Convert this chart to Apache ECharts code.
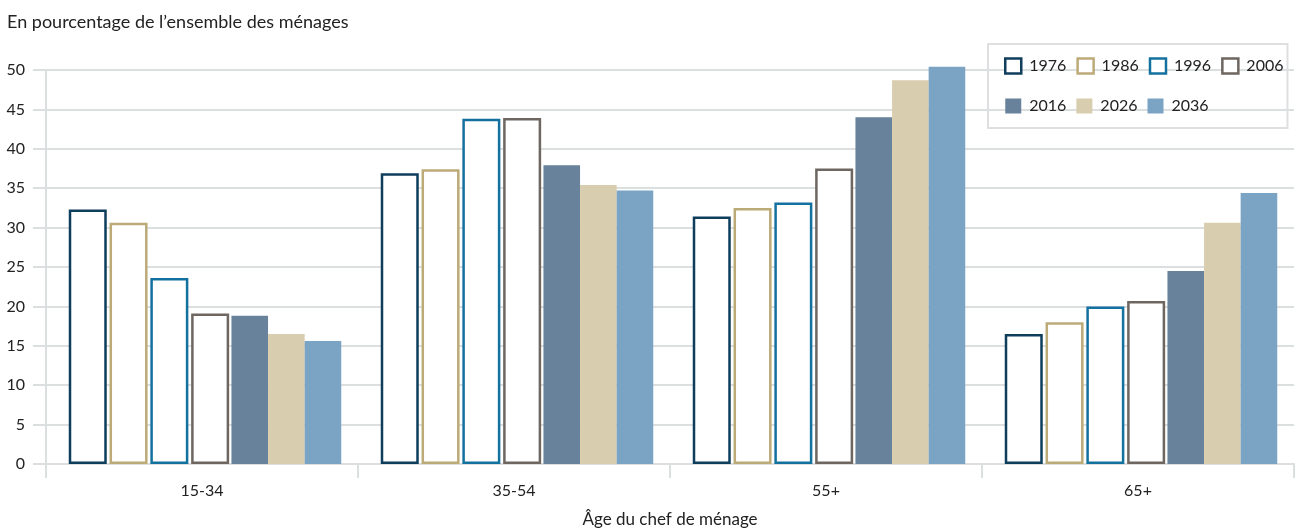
<!DOCTYPE html>
<html>
<head>
<meta charset="utf-8">
<script src="https://cdn.jsdelivr.net/npm/echarts@6/dist/echarts.min.js"></script>
<style>
  html, body { margin: 0; padding: 0; background: #fff; }
  #chart { width: 1297px; height: 529px; }
</style>
</head>
<body>
<div id="chart"></div>
<script>
// Age groups of the head of household
const categories = ['15-34', '35-54', '55+', '65+'];
const years = ['1976', '1986', '1996', '2006', '2016', '2026', '2036'];

// Share of all households (%), by year
const v1976 = [32.3, 36.9, 31.4, 16.5];
const v1986 = [30.6, 37.4, 32.5, 18.0];
const v1996 = [23.6, 43.8, 33.2, 20.0];
const v2006 = [19.1, 43.9, 37.5, 20.7];
const v2016 = [18.8, 37.9, 44.0, 24.5];
const v2026 = [16.5, 35.4, 48.7, 30.6];
const v2036 = [15.6, 34.7, 50.4, 34.4];

const yMin = 0, yMax = 50, yStep = 5;

const FONT = 'Lato';
const GRID_GREY = '#dcdfe0';
const TEXT = '#222222';

const colors = {
  '1976': '#0f3d5c',
  '1986': '#bcab78',
  '1996': '#13719f',
  '2006': '#6d6661',
  '2016': '#67829a',
  '2026': '#d8cdaf',
  '2036': '#7ba3c4'
};
const outlined = { '1976': true, '1986': true, '1996': true, '2006': true };
const values = { '1976': v1976, '1986': v1986, '1996': v1996, '2006': v2006,
                  '2016': v2016, '2026': v2026, '2036': v2036 };

// bar widths in px (outlined bars keep their border inside the width)
const OUT_W = 38, FILL_W = 36.6, BORDER = 2.5;

// empty bar column used only to open a small gap inside each group
function spacer(id, width) {
  return { type: 'bar', id: id, name: id, data: [], barWidth: width, barGap: 0, silent: true };
}

const series = [spacer('lead', 6)];
years.forEach(function (y, i) {
  const isOut = !!outlined[y];
  series.push({
    type: 'bar',
    name: y,
    data: values[y],
    barWidth: isOut ? OUT_W : FILL_W,
    barGap: 0,
    clip: false,
    itemStyle: isOut
      ? { color: '#ffffff', borderColor: colors[y], borderWidth: BORDER }
      : { color: colors[y] },
    emphasis: { disabled: true }
  });
  if (isOut) series.push(spacer('sp' + i, i < 3 ? 2.8 : 2.3));
});

const legendData = years.map(function (y) {
  return outlined[y]
    ? { name: y, icon: 'rect', itemStyle: { color: '#ffffff', borderColor: colors[y], borderWidth: BORDER } }
    : { name: y, icon: 'rect', itemStyle: { color: colors[y], borderWidth: 0 } };
});

const chart = echarts.init(document.getElementById('chart'), null, { renderer: 'canvas' });
chart.setOption({
  animation: false,
  backgroundColor: '#ffffff',
  textStyle: { fontFamily: FONT },
  title: {
    text: 'En pourcentage de l\u2019ensemble des ménages',
    left: 2, top: 8,
    textStyle: { fontFamily: FONT, fontSize: 18, fontWeight: 'normal', color: TEXT }
  },
  legend: {
    data: legendData,
    left: 988, top: 44,
    width: 285,
    orient: 'horizontal',
    padding: [7, 4, 7, 16],
    itemGap: 10,
    itemWidth: 16,
    itemHeight: 15,
    borderColor: '#dddfe0',
    borderWidth: 2,
    selectedMode: false,
    textStyle: { fontFamily: FONT, fontSize: 16, color: TEXT, lineHeight: 30, padding: [0, 0, 0, 3] }
  },
  grid: { left: 46, right: 3, top: 70, bottom: 65, containLabel: false, outerBoundsMode: 'none' },
  xAxis: {
    type: 'category',
    data: categories,
    name: 'Âge du chef de ménage',
    nameLocation: 'middle',
    nameGap: 47,
    nameTextStyle: { fontFamily: FONT, fontSize: 17, color: TEXT },
    axisLine: { show: true, lineStyle: { color: GRID_GREY, width: 2 } },
    axisTick: { show: true, length: 14, lineStyle: { color: GRID_GREY, width: 2 } },
    axisLabel: { margin: 19, fontFamily: FONT, fontSize: 16, color: TEXT }
  },
  yAxis: {
    type: 'value',
    min: yMin, max: yMax, interval: yStep,
    axisLine: { show: true, lineStyle: { color: GRID_GREY, width: 2 } },
    axisTick: { show: true, length: 13, lineStyle: { color: GRID_GREY, width: 2 } },
    axisLabel: { margin: 21, fontFamily: FONT, fontSize: 16, color: TEXT },
    splitLine: { show: true, lineStyle: { color: GRID_GREY, width: 2 } }
  },
  series: series
});
</script>
</body>
</html>
